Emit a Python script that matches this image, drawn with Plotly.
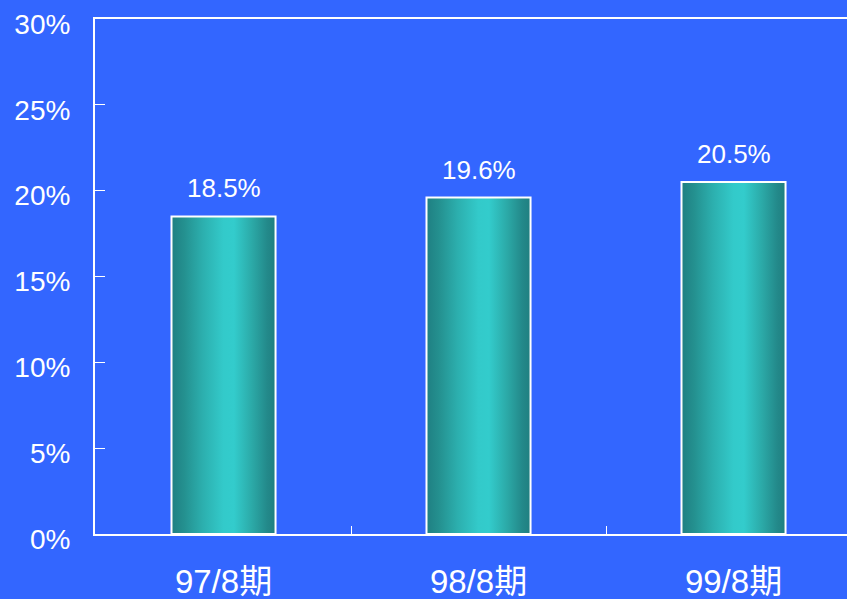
import plotly.graph_objects as go

categories = ["97/8期", "98/8期", "99/8期"]
values = [18.5, 19.6, 20.5]
y_ticks = [0, 5, 10, 15, 20, 25, 30]
y_tick_labels = [f"{v}%" for v in y_ticks]

BG = "#3366FF"
BAR_W = 0.408
FONT = "Liberation Sans, Arial, Noto Sans CJK JP, sans-serif"
grad = [[0.0, "#1F7F82"], [0.12, "#24908F"], [0.3, "#2CAFAE"], [0.5, "#33CACA"],
        [0.6, "#33CCCC"], [0.78, "#2BA8A6"], [0.92, "#23898A"], [1.0, "#1F7F80"]]

fig = go.Figure()
for i, v in enumerate(values):
    x0, x1 = i - BAR_W / 2, i + BAR_W / 2
    fig.add_trace(go.Scatter(
        x=[x0, x1, x1, x0, x0], y=[0, 0, v, v, 0],
        mode="lines", fill="toself",
        fillgradient=dict(type="horizontal", colorscale=grad),
        line=dict(color="white", width=2),
        hoverinfo="skip", showlegend=False))

for i, v in enumerate(values):
    fig.add_annotation(x=i, y=v, text=f"{v:.1f}%", showarrow=False,
                       yanchor="middle", yshift=28,
                       font=dict(color="white", size=26, family=FONT))

fig.update_layout(
    width=847, height=599,
    paper_bgcolor=BG, plot_bgcolor=BG,
    margin=dict(l=95, r=0, t=19, b=65),
    font=dict(family=FONT, color="white"),
    xaxis=dict(range=[-0.504, 2.445], tickvals=list(range(len(categories))),
               ticktext=categories, ticks="", showgrid=False, zeroline=False,
               showline=True, linecolor="white", linewidth=2, mirror=True,
               tickfont=dict(size=33, color="white", family=FONT), ticklabelstandoff=17,
               minor=dict(tickvals=[0.5, 1.5], ticks="inside", ticklen=8,
                          tickcolor="white", tickwidth=1, showgrid=False)),
    yaxis=dict(range=[0, 30], tickvals=y_ticks, ticktext=y_tick_labels,
               ticks="inside", ticklen=10, tickcolor="white", tickwidth=1,
               showgrid=False, zeroline=False, showline=True, linecolor="white",
               linewidth=2, tickfont=dict(size=28, color="white", family=FONT),
               ticklabelstandoff=17, ticklabelshift=5),
)

fig.write_html("out.html", config={"displayModeBar": False},
               post_script="document.body.style.margin='0';document.body.style.overflow='hidden';")
